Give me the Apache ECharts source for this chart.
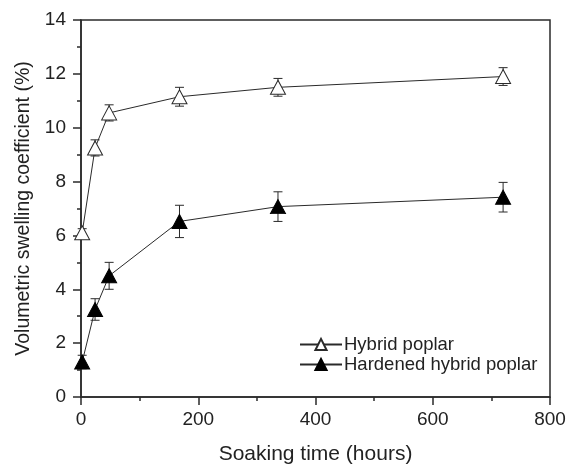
<!DOCTYPE html>
<html>
<head>
<meta charset="utf-8">
<script src="https://cdn.jsdelivr.net/npm/echarts@6/dist/echarts.min.js"></script>
<style>html,body{margin:0;padding:0;background:#fff}#c{width:569px;height:465px}</style>
</head>
<body>
<div id="c"></div>
<script>
const hours = [2, 24, 48, 168, 336, 720];
const hybrid = [6.1, 9.25, 10.55, 11.15, 11.5, 11.9];
const hybridErr = [0.15, 0.3, 0.3, 0.35, 0.33, 0.33];
const hardened = [1.3, 3.25, 4.5, 6.52, 7.07, 7.42];
const hardenedErr = [0.25, 0.4, 0.5, 0.6, 0.55, 0.55];
const xTicks = [0, 200, 400, 600, 800];
const yTicks = [0, 2, 4, 6, 8, 10, 12, 14];

const chart = echarts.init(document.getElementById('c'));
const dark = '#2a2a2a';
const font = 'Liberation Sans, Arial, sans-serif';

function errData(vals, errs) {
  return hours.map((h, i) => [h, vals[i] - errs[i], vals[i] + errs[i]]);
}
function errSeries(vals, errs) {
  return {
    type: 'custom',
    z: 1,
    silent: true,
    data: errData(vals, errs),
    renderItem: function (params, api) {
      const lo = api.coord([api.value(0), api.value(1)]);
      const hi = api.coord([api.value(0), api.value(2)]);
      const w = 4.5;
      const st = { stroke: dark, lineWidth: 1 };
      return {
        type: 'group',
        children: [
          { type: 'line', shape: { x1: lo[0], y1: lo[1], x2: hi[0], y2: hi[1] }, style: st },
          { type: 'line', shape: { x1: hi[0] - w, y1: hi[1], x2: hi[0] + w, y2: hi[1] }, style: st },
          { type: 'line', shape: { x1: lo[0] - w, y1: lo[1], x2: lo[0] + w, y2: lo[1] }, style: st }
        ]
      };
    }
  };
}

chart.setOption({
  animation: false,
  backgroundColor: '#fff',
  grid: { left: 81, right: 19, top: 20, bottom: 68, containLabel: false, outerBoundsMode: 'none', show: true, borderColor: dark, borderWidth: 1.5, backgroundColor: 'transparent' },
  legend: {
    left: 294, top: 330, orient: 'vertical', itemWidth: 42, itemHeight: 14, itemGap: 1,
    textStyle: { fontFamily: font, fontSize: 18.5, color: '#222', padding: [0, 0, 0, -3] },
    data: ['Hybrid poplar', 'Hardened hybrid poplar']
  },
  xAxis: {
    type: 'value', min: xTicks[0], max: xTicks[xTicks.length - 1], interval: 200,
    name: 'Soaking time (hours)', nameLocation: 'middle', nameGap: 47,
    nameTextStyle: { fontFamily: font, fontSize: 21, color: '#222' },
    axisLine: { lineStyle: { color: dark, width: 1.5 } },
    axisTick: { show: true, inside: false, length: 8, lineStyle: { color: dark, width: 1.5 } },
    minorTick: { show: true, splitNumber: 2, length: 4, lineStyle: { color: dark, width: 1.5 } },
    splitLine: { show: false },
    axisLabel: { fontFamily: font, fontSize: 19, color: '#222', margin: 13 }
  },
  yAxis: {
    type: 'value', min: yTicks[0], max: yTicks[yTicks.length - 1], interval: 2,
    name: 'Volumetric swelling coefficient (%)', nameLocation: 'middle', nameGap: 43,
    nameTextStyle: { fontFamily: font, fontSize: 19.5, color: '#222' },
    axisLine: { lineStyle: { color: dark, width: 1.5 } },
    axisTick: { show: true, inside: false, length: 8, lineStyle: { color: dark, width: 1.5 } },
    minorTick: { show: true, splitNumber: 2, length: 4, lineStyle: { color: dark, width: 1.5 } },
    splitLine: { show: false },
    axisLabel: { fontFamily: font, fontSize: 19, color: '#222', margin: 15 }
  },
  series: [
    errSeries(hybrid, hybridErr),
    errSeries(hardened, hardenedErr),
    {
      name: 'Hybrid poplar', type: 'line', z: 3,
      data: hours.map((h, i) => [h, hybrid[i]]),
      symbol: 'triangle', symbolSize: [15, 14],
      lineStyle: { color: dark, width: 1 },
      itemStyle: { color: '#fff', borderColor: dark, borderWidth: 1 }
    },
    {
      name: 'Hardened hybrid poplar', type: 'line', z: 3,
      data: hours.map((h, i) => [h, hardened[i]]),
      symbol: 'triangle', symbolSize: [15, 14],
      lineStyle: { color: dark, width: 1 },
      itemStyle: { color: '#000', borderColor: '#000', borderWidth: 1 }
    }
  ]
});
</script>
</body>
</html>
